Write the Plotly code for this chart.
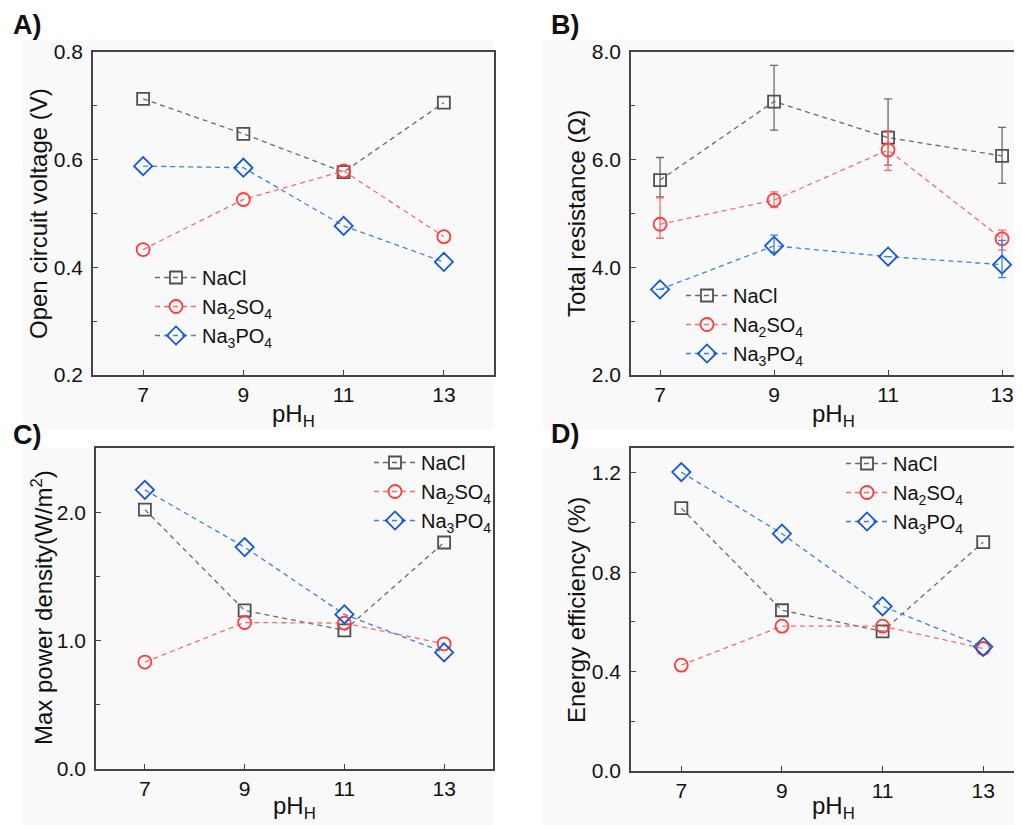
import plotly.graph_objects as go

ph = [7, 9, 11, 13]
series_names = ["NaCl", "Na<sub>2</sub>SO<sub>4</sub>", "Na<sub>3</sub>PO<sub>4</sub>"]

# A) open circuit voltage (V)
ocv_nacl = [0.713, 0.648, 0.577, 0.706]
ocv_na2so4 = [0.433, 0.526, 0.579, 0.457]
ocv_na3po4 = [0.588, 0.585, 0.477, 0.410]

# B) total resistance (ohm) with error bars
res_nacl = [5.62, 7.08, 6.41, 6.07]
res_nacl_up = [0.42, 0.67, 0.72, 0.53]
res_nacl_dn = [0.31, 0.53, 0.51, 0.51]
res_na2so4 = [4.80, 5.25, 6.18, 4.53]
res_na2so4_up = [0.49, 0.15, 0.36, 0.16]
res_na2so4_dn = [0.26, 0.14, 0.38, 0.21]
res_na3po4 = [3.59, 4.40, 4.20, 4.05]
res_na3po4_up = [0.0, 0.20, 0.0, 0.45]
res_na3po4_dn = [0.0, 0.12, 0.0, 0.24]

# C) max power density (W/m2)
pd_nacl = [2.02, 1.235, 1.08, 1.764]
pd_na2so4 = [0.833, 1.141, 1.136, 0.975]
pd_na3po4 = [2.174, 1.728, 1.204, 0.908]

# D) energy efficiency (%)
ee_nacl = [1.058, 0.647, 0.562, 0.921]
ee_na2so4 = [0.426, 0.583, 0.583, 0.493]
ee_na3po4 = [1.203, 0.955, 0.663, 0.500]

FONT = "Arial, Liberation Sans, sans-serif"
styles = [
    dict(line="#6a6a6a", mark="#505050", symbol="square-open", size=12),
    dict(line="#ff6a6a", mark="#ff3b3b", symbol="circle-open", size=13),
    dict(line="#3f7fe6", mark="#1458d4", symbol="diamond-open", size=14),
]

W, H = 1022, 825
OFF = 8  # default page body margin


def X(px):
    return min(1.0, max(0.0, (px - OFF) / W))


def Y(py):
    return min(1.0, max(0.0, 1 - (py - OFF) / H))


fig = go.Figure()


def add_panel(idx, ys, errs=None):
    xa = "x" if idx == 1 else f"x{idx}"
    ya = "y" if idx == 1 else f"y{idx}"
    lg = "legend" if idx == 1 else f"legend{idx}"
    for k, (y, st, name) in enumerate(zip(ys, styles, series_names)):
        tr = dict(
            x=ph, y=y, name=name, mode="lines+markers",
            line=dict(color=st["line"], width=1.3, dash="5px,4px"),
            marker=dict(symbol=st["symbol"], size=st["size"], color=st["mark"],
                        line=dict(width=1.8, color=st["mark"])),
            xaxis=xa, yaxis=ya, legend=lg,
        )
        if errs is not None:
            up, dn = errs[k]
            tr["error_y"] = dict(type="data", array=up, arrayminus=dn, symmetric=False,
                                 color=st["line"], thickness=1.3, width=4)
        fig.add_trace(go.Scatter(**tr))


add_panel(1, [ocv_nacl, ocv_na2so4, ocv_na3po4])
add_panel(2, [res_nacl, res_na2so4, res_na3po4],
          [(res_nacl_up, res_nacl_dn), (res_na2so4_up, res_na2so4_dn), (res_na3po4_up, res_na3po4_dn)])
add_panel(3, [pd_nacl, pd_na2so4, pd_na3po4])
add_panel(4, [ee_nacl, ee_na2so4, ee_na3po4])

axcol = "#444444"
TICKF = dict(size=21, color="#111", family=FONT)


def xaxis(x0, x1, rng, anchor):
    return dict(domain=[X(x0), X(x1)], range=rng, anchor=anchor, tickvals=ph,
                ticktext=[str(v) for v in ph], automargin=False,
                ticks="inside", ticklen=5, tickwidth=1.3, tickcolor=axcol,
                showline=True, linecolor=axcol, linewidth=1.6, mirror=True,
                showgrid=False, zeroline=False, tickfont=TICKF)


def yaxis(top, bot, rng, anchor, tickvals, ticktext, minor_dtick, mirror=True):
    return dict(domain=[Y(bot), Y(top)], range=rng, anchor=anchor, tickvals=tickvals,
                ticktext=ticktext, automargin=False,
                ticks="inside", ticklen=5, tickwidth=1.3, tickcolor=axcol,
                minor=dict(ticks="inside", ticklen=4, tickwidth=1.2, tickcolor=axcol,
                           tick0=rng[0], dtick=minor_dtick),
                showline=True, linecolor=axcol, linewidth=1.6, mirror=mirror,
                showgrid=False, zeroline=False, ticklabelstandoff=4, tickfont=TICKF)


legend_common = dict(bgcolor="rgba(0,0,0,0)", font=dict(size=20, color="#111", family=FONT),
                     itemwidth=42, tracegroupgap=0, xanchor="left", yanchor="top")

fig.update_layout(
    width=W, height=H, margin=dict(l=0, r=0, t=0, b=0, autoexpand=False),
    paper_bgcolor="white", plot_bgcolor="#f9f9f9",
    font=dict(family=FONT),
    xaxis=xaxis(93, 494, [6, 14], "y"),
    yaxis=yaxis(52, 375, [0.2, 0.8], "x", [0.2, 0.4, 0.6, 0.8], ["0.2", "0.4", "0.6", "0.8"], 0.1),
    xaxis2=xaxis(631, 1030, [6.49, 13.49], "y2"),
    yaxis2=yaxis(52, 375, [2, 8], "x2", [2, 4, 6, 8], ["2.0", "4.0", "6.0", "8.0"], 1, mirror=False),
    xaxis3=xaxis(96, 493, [6.02, 13.98], "y3"),
    yaxis3=yaxis(448, 769, [0, 2.5], "x3", [0, 1, 2], ["0.0", "1.0", "2.0"], 0.5),
    xaxis4=xaxis(631, 1030, [6.0, 13.93], "y4"),
    yaxis4=yaxis(448, 771, [0, 1.3], "x4", [0, 0.4, 0.8, 1.2], ["0.0", "0.4", "0.8", "1.2"], 0.2,
                 mirror=False),
    legend=dict(x=X(150), y=Y(258), **legend_common),
    legend2=dict(x=X(681), y=Y(276), **legend_common),
    legend3=dict(x=X(369), y=Y(443), **legend_common),
    legend4=dict(x=X(841), y=Y(444), **legend_common),
)

# light grey panel backgrounds
for (x0, y0, x1, y1) in [(22, 40, 493, 430), (543, 40, 1030, 430), (22, 448, 493, 833), (543, 448, 1030, 833)]:
    fig.add_shape(type="rect", xref="paper", yref="paper", x0=X(x0), x1=X(x1),
                  y0=Y(y1), y1=Y(y0), fillcolor="#f9f9f9", line=dict(width=0), layer="below")

# panel labels
for (lab, x, y) in [("A)", 11, 25), ("B)", 549, 25), ("C)", 11, 435), ("D)", 549, 434)]:
    fig.add_annotation(text=f"<b>{lab}</b>", xref="paper", yref="paper", x=X(x), y=Y(y),
                       xanchor="left", yanchor="middle", showarrow=False,
                       font=dict(size=27, color="#111", family=FONT))

TITLEF = dict(size=24, color="#111", family=FONT)
# y-axis titles
for (txt, x, y) in [("Open circuit voltage (V)", 38, 214), ("Total resistance (Ω)", 576, 214),
                    ("Max power density(W/m<sup>2</sup>)", 42, 608), ("Energy efficiency (%)", 576, 610)]:
    fig.add_annotation(text=txt, xref="paper", yref="paper", x=X(x), y=Y(y),
                       xanchor="center", yanchor="middle", textangle=-90, showarrow=False,
                       font=TITLEF)

# x-axis titles
for (x, y) in [(293, 398), (833, 398), (294, 790), (833, 790)]:
    fig.add_annotation(text="pH<sub>H</sub>", xref="paper", yref="paper", x=X(x), y=Y(y),
                       xanchor="center", yanchor="top", showarrow=False, font=TITLEF)

fig.write_html("out.html")
